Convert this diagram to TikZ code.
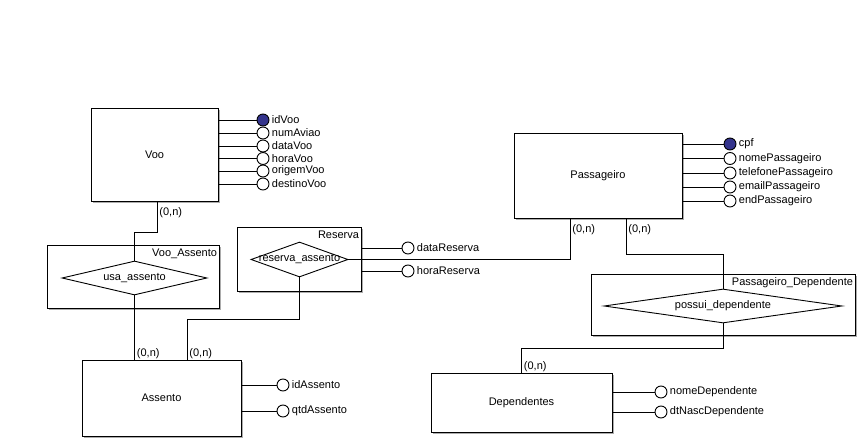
\documentclass[tikz,border=0pt]{standalone}
\usepackage{fontspec}
\setmainfont{Liberation Sans}
\usetikzlibrary{shapes.geometric,shadows,positioning,calc}
\definecolor{azulchave}{RGB}{52,52,140}
\tikzset{
  entidade/.style={draw,fill=white,drop shadow={shadow xshift=2pt,shadow yshift=-2pt,fill=gray!65,opacity=1}},
  relacao/.style={entidade},
  relnome/.style={label={[anchor=north east,inner xsep=2pt,inner ysep=4pt]north east:#1}},
  losango/.style={diamond,draw,fill=white,inner sep=0pt},
  atrib/.style={circle,draw,fill=white,minimum size=12,inner sep=0pt,
    label={[anchor=west,inner sep=2pt]east:#1}},
  chave/.style={atrib=#1,fill=azulchave},
  cardbaixo/.style={anchor=north west,inner xsep=2pt,inner ysep=6pt},
  cardcima/.style={anchor=south west,inner xsep=2pt,inner ysep=0.5pt}
}

\begin{document}
\begin{tikzpicture}[x=1pt,y=-1pt,line width=0.9pt,font=\fontsize{11}{13}\selectfont]
  \useasboundingbox[fill=white] (0,0) rectangle (862,443);
  % entidades
  \node[entidade,minimum width=127,minimum height=93] (voo) at (154.5,154.5) {Voo};
  \node[entidade,minimum width=168,minimum height=85] (passageiro) at (598,175.5) {Passageiro};
  \node[entidade,minimum width=159,minimum height=76] (assento) at (161.5,398) {Assento};
  \node[entidade,minimum width=181,minimum height=59] (dependentes) at (521.5,402.5) {Dependentes};
  % relacionamentos
  \node[relacao,relnome=Voo\_Assento,minimum width=172,minimum height=63] (vooassento) at (133,276.5) {};
  \node[losango,minimum width=145,minimum height=34,label=center:usa\_assento] (usa) at (134.5,278) {};
  \node[relacao,relnome=Reserva,minimum width=124,minimum height=64] (reserva) at (299,259) {};
  \node[losango,minimum width=97,minimum height=35,label=center:reserva\_assento] (rd) at (299.5,259.5) {};
  \node[relacao,relnome=Passageiro\_Dependente,minimum width=264,minimum height=61] (passdep) at (723,304.5) {};
  \node[losango,minimum width=238,minimum height=34,label=center:possui\_dependente] (pd) at (723,306) {};
  % atributos
  \node[chave=idVoo] (idvoo) at (263,120) {};
  \node[atrib=numAviao] (numaviao) at (263,133) {};
  \node[atrib=dataVoo] (datavoo) at (263,146) {};
  \node[atrib=horaVoo] (horavoo) at (263,158.5) {};
  \node[atrib=origemVoo] (origemvoo) at (263,171) {};
  \node[atrib=destinoVoo] (destinovoo) at (263,184) {};
  \node[chave=cpf] (cpf) at (730,144) {};
  \node[atrib=nomePassageiro] (nomepass) at (730,158.5) {};
  \node[atrib=telefonePassageiro] (telpass) at (730,173) {};
  \node[atrib=emailPassageiro] (emailpass) at (730,187) {};
  \node[atrib=endPassageiro] (endpass) at (730,201) {};
  \node[atrib=idAssento] (idassento) at (283,385) {};
  \node[atrib=qtdAssento] (qtdassento) at (283,411) {};
  \node[atrib=nomeDependente] (nomedep) at (661,392) {};
  \node[atrib=dtNascDependente] (dtnascdep) at (661,412) {};
  \node[atrib=dataReserva] (datareserva) at (408,248) {};
  \node[atrib=horaReserva] (horareserva) at (408,271) {};
  \draw (voo.east |- idvoo) -- (idvoo);
  \draw (voo.east |- numaviao) -- (numaviao);
  \draw (voo.east |- datavoo) -- (datavoo);
  \draw (voo.east |- horavoo) -- (horavoo);
  \draw (voo.east |- origemvoo) -- (origemvoo);
  \draw (voo.east |- destinovoo) -- (destinovoo);
  \draw (passageiro.east |- cpf) -- (cpf);
  \draw (passageiro.east |- nomepass) -- (nomepass);
  \draw (passageiro.east |- telpass) -- (telpass);
  \draw (passageiro.east |- emailpass) -- (emailpass);
  \draw (passageiro.east |- endpass) -- (endpass);
  \draw (assento.east |- idassento) -- (idassento);
  \draw (assento.east |- qtdassento) -- (qtdassento);
  \draw (dependentes.east |- nomedep) -- (nomedep);
  \draw (dependentes.east |- dtnascdep) -- (dtnascdep);
  \draw (reserva.east |- datareserva) -- (datareserva);
  \draw (reserva.east |- horareserva) -- (horareserva);
  % ligacoes
  \draw ([xshift=2.5pt]voo.south) node[cardbaixo]{(0,n)} -- ++(0,31) -| (usa.north);
  \draw (usa.south) -- (usa.south |- assento.north) node[cardcima]{(0,n)};
  \draw (rd.south) -- ++(0,42) -| ([xshift=25.5pt]assento.north) node[cardcima]{(0,n)};
  \draw (rd.east) -| ([xshift=-28pt]passageiro.south) node[cardbaixo]{(0,n)};
  \draw ([xshift=28pt]passageiro.south) node[cardbaixo]{(0,n)} -- ++(0,36) -| (pd.north);
  \draw (pd.south) -- ++(0,25) -| (dependentes.north) node[cardcima]{(0,n)};
\end{tikzpicture}
\end{document}
